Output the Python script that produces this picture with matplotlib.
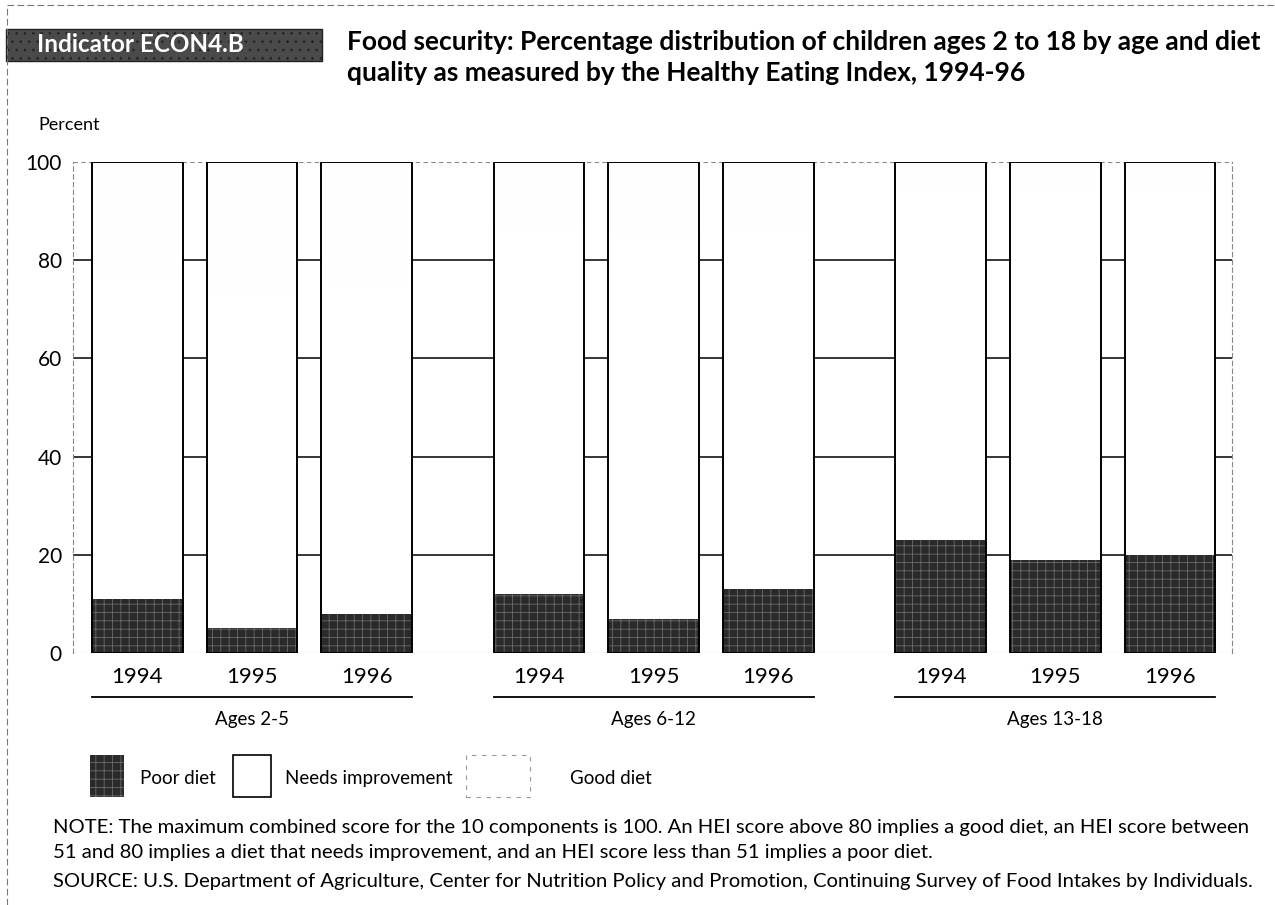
import numpy as np
import matplotlib
matplotlib.use("Agg")
import matplotlib.pyplot as plt
from matplotlib.patches import Rectangle
from matplotlib.transforms import blended_transform_factory

plt.rcParams['font.family'] = ['Lato', 'DejaVu Sans']
plt.rcParams['hatch.linewidth'] = 0.6

# data (percent of children)
groups = ['Ages 2-5', 'Ages 6-12', 'Ages 13-18']
years = ['1994', '1995', '1996']
poor_diet = [11, 5, 8, 12, 7, 13, 23, 19, 20]
needs_improvement = [65, 68, 67, 75, 78, 74, 71, 75, 74]
good_diet = [24, 27, 25, 13, 15, 13, 6, 6, 6]

W, H = 1275, 905
fig = plt.figure(figsize=(W / 100, H / 100), dpi=100)


def fx(px):
    return px / W


def fy(py):
    return 1 - py / H


# axes placed to match the page
ax = fig.add_axes([fx(73), fy(653), fx(1232 - 73), (653 - 162) / H])

x = np.array([0, 1, 2, 3.5, 4.5, 5.5, 7, 8, 9])
width = 0.79
poor = np.array(poor_diet)
needs = np.array(needs_improvement)
good = np.array(good_diet)

ax.bar(x, poor, width, color='#2a2a2a', edgecolor='#6a6a6a', hatch='++', linewidth=0, zorder=2)
ax.bar(x, needs, width, bottom=poor, color='white', linewidth=0, zorder=2)
ax.bar(x, good, width, bottom=poor + needs, color='#fefefe', linewidth=0, zorder=2)
ax.bar(x, poor + needs + good, width, fill=False, edgecolor='black', linewidth=1.4, zorder=3)

ax.set_xlim(-0.56, 9.54)
ax.set_ylim(0, 100)
ax.set_yticks([0, 20, 40, 60, 80, 100])
ax.yaxis.grid(True, color='black', linewidth=1.1)
ax.set_axisbelow(True)
gl = ax.yaxis.get_gridlines()
for g in (gl[0], gl[-1]):
    g.set_color('#888888')
    g.set_linestyle((0, (4, 3)))
    g.set_linewidth(0.8)

for side in ['top', 'bottom']:
    ax.spines[side].set_visible(False)
for side in ['left', 'right']:
    ax.spines[side].set_color('#888888')
    ax.spines[side].set_linestyle((0, (4, 3)))
    ax.spines[side].set_linewidth(0.8)

ax.tick_params(axis='y', length=0, pad=8, labelsize=15)
ax.set_xticks(x)
ax.set_xticklabels(years * 3, fontsize=16)
ax.tick_params(axis='x', length=0, pad=10)

# group underlines and labels
tr = blended_transform_factory(ax.transData, ax.transAxes)
for i, name in enumerate(groups):
    xs = x[i * 3:(i + 1) * 3]
    ax.plot([xs[0] - width / 2, xs[-1] + width / 2], [-0.089, -0.089], color='black',
            linewidth=1.3, transform=tr, clip_on=False)
    ax.text(xs[1], -0.136, name, transform=tr, ha='center', va='center', fontsize=13.5)

# indicator box and title
fig.patches.append(Rectangle((fx(6), fy(61)), fx(316), (61 - 29) / H, transform=fig.transFigure,
                             facecolor='#4a4a4a', edgecolor='#222222', hatch='..', linewidth=1))
fig.text(fx(37), fy(45), 'Indicator ECON4.B', color='white', fontsize=17.5, fontweight='bold',
         va='center', ha='left')
fig.text(fx(347), fy(42), 'Food security: Percentage distribution of children ages 2 to 18 by age and diet',
         fontsize=19, fontweight='bold', va='center', ha='left')
fig.text(fx(347), fy(73), 'quality as measured by the Healthy Eating Index, 1994-96',
         fontsize=19, fontweight='bold', va='center', ha='left')
fig.text(fx(38), fy(125), 'Percent', fontsize=13, va='center', ha='left')

# legend
lg_y0, lg_y1 = 755, 797
fig.patches.append(Rectangle((fx(90), fy(lg_y1)), fx(34), (lg_y1 - lg_y0) / H, transform=fig.transFigure,
                             facecolor='#2a2a2a', edgecolor='#6a6a6a', hatch='++', linewidth=0))
fig.text(fx(140), fy(778), 'Poor diet', fontsize=13.5, va='center', ha='left')
fig.patches.append(Rectangle((fx(233), fy(lg_y1)), fx(38), (lg_y1 - lg_y0) / H, transform=fig.transFigure,
                             facecolor='white', edgecolor='black', linewidth=1.2))
fig.text(fx(285), fy(778), 'Needs improvement', fontsize=13.5, va='center', ha='left')
fig.patches.append(Rectangle((fx(466), fy(lg_y1)), fx(64), (lg_y1 - lg_y0) / H, transform=fig.transFigure,
                             facecolor='white', edgecolor='#999999', linestyle=(0, (4, 5)), linewidth=0.8))
fig.text(fx(570), fy(778), 'Good diet', fontsize=13.5, va='center', ha='left')

# notes
fig.text(fx(53), fy(827), 'NOTE: The maximum combined score for the 10 components is 100. An HEI score above 80 '
         'implies a good diet, an HEI score between', fontsize=14.6, va='center', ha='left')
fig.text(fx(53), fy(852), '51 and 80 implies a diet that needs improvement, and an HEI score less than 51 '
         'implies a poor diet.', fontsize=14.6, va='center', ha='left')
fig.text(fx(53), fy(881), 'SOURCE: U.S. Department of Agriculture, Center for Nutrition Policy and Promotion, '
         'Continuing Survey of Food Intakes by Individuals.', fontsize=14.6, va='center', ha='left')

# scanned page border
fig.add_artist(plt.Line2D([fx(7), 1], [fy(5), fy(5)], transform=fig.transFigure, color='#777777',
                          linewidth=0.8, linestyle=(0, (6, 3))))
fig.add_artist(plt.Line2D([fx(7), fx(7)], [0, fy(5)], transform=fig.transFigure, color='#777777',
                          linewidth=0.8, linestyle=(0, (6, 3))))

fig.savefig('out.png', dpi=100)
